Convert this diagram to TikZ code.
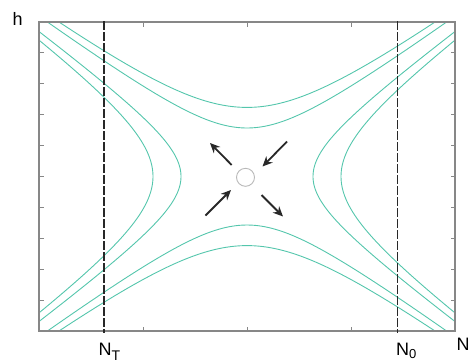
\documentclass[tikz,border=0pt]{standalone}
\usepackage{fontspec}
\setmainfont{Liberation Sans}
\usetikzlibrary{arrows.meta}
\definecolor{curvec}{RGB}{84,198,172}
\definecolor{axisc}{RGB}{135,135,135}
\definecolor{arrc}{RGB}{40,40,40}
\tikzset{
  hyp/.style={curvec, line width=0.9pt},
  axisbox/.style={axisc, line width=1.3pt},
  tickln/.style={axisc, line width=1pt},
  vdash/.style={arrc, line width=1.1pt, dash pattern=on 9pt off 2pt},
  flow/.style={arrc, line width=1.8pt, -{Stealth[length=10pt,width=9pt]}},
  lbl/.style={inner sep=0pt, anchor=base west, font=\fontsize{18}{18}\selectfont}
}
\begin{document}
\begin{tikzpicture}[x=1pt,y=-1pt]
\useasboundingbox (0,0) rectangle (468,360);
% axis box
\coordinate (bl) at (39,331);
\coordinate (tr) at (455,22);
\begin{scope}
\clip (bl) rectangle (tr);
\foreach \A in {66,94}{
  \draw[hyp] plot[domain=-2.4:2.4, samples=160, variable=\t] ({247+\A*sinh(\t)}, {176.5-0.735*\A*cosh(\t)});
  \draw[hyp] plot[domain=-2.4:2.4, samples=160, variable=\t] ({247+\A*sinh(\t)}, {176.5+0.735*\A*cosh(\t)});
  \draw[hyp] plot[domain=-2.4:2.4, samples=160, variable=\t] ({247-\A*cosh(\t)}, {176.5+0.735*\A*sinh(\t)});
  \draw[hyp] plot[domain=-2.4:2.4, samples=160, variable=\t] ({247+\A*cosh(\t)}, {176.5+0.735*\A*sinh(\t)});
}
\end{scope}
% ticks
\foreach \k in {1,...,9}{
  \draw[tickln] (39,{331-30.9*\k}) -- ++(4.5,0);
  \draw[tickln] (455,{331-30.9*\k}) -- ++(-4.5,0);
}
\foreach \xx in {143,247,351}{
  \draw[tickln] (\xx,331) -- ++(0,-4.5);
  \draw[tickln] (\xx,22) -- ++(0,4.5);
}
\draw[axisbox] (bl) rectangle (tr);
% dashed lines
\coordinate (nt1) at (104,21);
\coordinate (nt2) at (104,333);
\coordinate (n01) at (397.7,21);
\coordinate (n02) at (397.7,333);
\draw[vdash] (nt1) -- (nt2);
\draw[vdash] (n01) -- (n02);
% centre circle
\node[circle, draw=black!28, line width=0.9pt, minimum size=18pt, inner sep=0pt] (eq) at (245.5,177.3) {};
% arrows
\coordinate (a1s) at (231.7,165); \coordinate (a1e) at (210,143);
\coordinate (a2s) at (287,141.5); \coordinate (a2e) at (262.5,166.5);
\coordinate (a3s) at (205.5,215.5); \coordinate (a3e) at (231,190);
\coordinate (a4s) at (261.5,195); \coordinate (a4e) at (283,216.5);
\draw[flow] (a1s) -- (a1e);
\draw[flow] (a2s) -- (a2e);
\draw[flow] (a3s) -- (a3e);
\draw[flow] (a4s) -- (a4e);
% labels
\node[lbl] (h) at (12.5,25) {h};
\node[lbl] (NT) at (98.5,355) {N\raisebox{-5pt}{\fontsize{14}{14}\selectfont T}};
\node[lbl] (N0) at (396,355) {N\raisebox{-3pt}{\fontsize{13}{13}\selectfont 0}};
\node[lbl] (Nx) at (456.5,350) {N};
\end{tikzpicture}
\end{document}
